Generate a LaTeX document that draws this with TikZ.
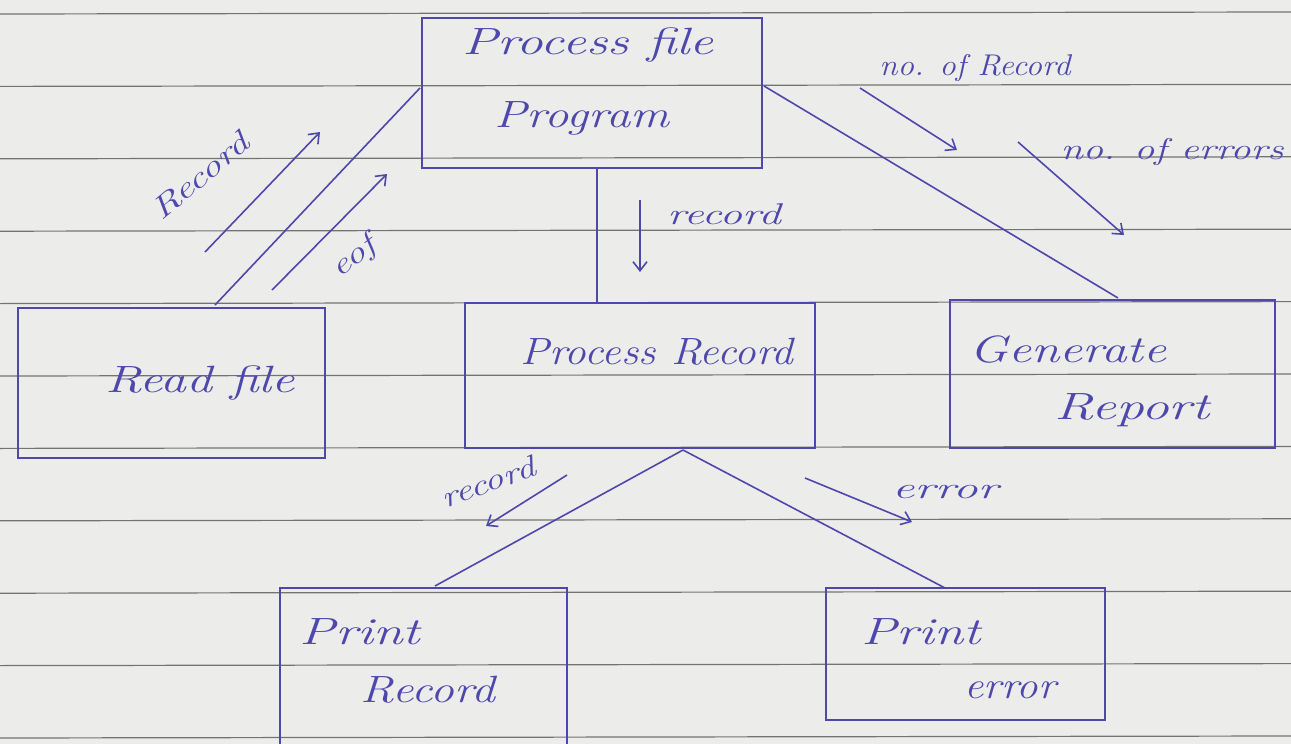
\documentclass[tikz,border=0pt]{standalone}
\usetikzlibrary{arrows.meta}
\definecolor{ink}{RGB}{78,72,172}
\definecolor{paper}{RGB}{236,236,234}
\definecolor{rule}{RGB}{115,115,115}
\newcommand\hw[2][1.35]{\scalebox{#1}[1]{#2}}
\begin{document}
\begin{tikzpicture}[x=1pt,y=-1pt,
  box/.style={draw=ink,line width=1.8pt},
  wire/.style={draw=ink,line width=1.6pt},
  flow/.style={draw=ink,line width=1.6pt,-{Straight Barb[length=9pt,width=14pt]}},
  txt/.style={text=ink,font=\fontsize{38}{42}\selectfont\itshape,inner sep=0pt},
  lbl/.style={text=ink,font=\fontsize{30}{34}\selectfont\itshape,inner sep=0pt}]
\useasboundingbox (0,0) rectangle (1291,744);
\fill[paper] (0,0) rectangle (1291,744);
\foreach \k in {0,...,10} {
  \draw[rule,line width=1.2pt] (0,{14+72.4*\k}) -- (1291,{12+72.4*\k});
}
% boxes
\draw[box] (422,18) rectangle (762,168);
\draw[box] (18,308) rectangle (325,458);
\draw[box] (465,303) rectangle (815,448);
\draw[box] (950,300) rectangle (1275,448);
\draw[box] (280,744) -- (280,588) -- (567,588) -- (567,744);
\draw[box] (826,588) rectangle (1105,720);
% box texts
\node[txt] (pf1) at (588,45) {\hw[1.4]{Process file}};
\node[txt] (pf2) at (582,118) {\hw[1.28]{Program}};
\node[txt] (rf) at (200,383) {\hw[1.36]{Read file}};
\node[txt] (pr) at (657,352) {\hw[1.14]{Process Record}};
\node[txt] (gr1) at (1068,350) {\hw[1.35]{Generate}};
\node[txt] (gr2) at (1132,410) {\hw[1.46]{Report}};
\node[txt] (p1) at (360,632) {\hw[1.41]{Print}};
\node[txt] (p2) at (428,690) {\hw[1.25]{Record}};
\node[txt] (e1) at (921,632) {\hw[1.39]{Print}};
\node[txt] (e2) at (1010,690) {\hw[1.13]{error}};
% connection points
\coordinate (pfL) at (420,88);
\coordinate (rfT) at (215,305);
\coordinate (pfB) at (597,168);
\coordinate (prT) at (597,303);
\coordinate (pfR) at (764,86);
\coordinate (grT) at (1118,298);
\coordinate (prB) at (683,450);
\coordinate (p1T) at (435,586);
\coordinate (e1T) at (945,588);
\draw[wire] (pfL) -- (rfT);
\draw[wire] (pfB) -- (prT);
\draw[wire] (pfR) -- (grT);
\draw[wire] (prB) -- (p1T);
\draw[wire] (prB) -- (e1T);
% flow arrows
\coordinate (a1s) at (205,252); \coordinate (a1e) at (320,132);
\coordinate (a2s) at (272,290); \coordinate (a2e) at (387,174);
\coordinate (a3s) at (640,200); \coordinate (a3e) at (640,272);
\coordinate (a4s) at (860,88);  \coordinate (a4e) at (957,150);
\coordinate (a5s) at (1018,142); \coordinate (a5e) at (1124,235);
\coordinate (a6s) at (567,475); \coordinate (a6e) at (486,526);
\coordinate (a7s) at (805,478); \coordinate (a7e) at (912,522);
\draw[flow] (a1s) -- (a1e);
\draw[flow] (a2s) -- (a2e);
\draw[flow] (a3s) -- (a3e);
\draw[flow] (a4s) -- (a4e);
\draw[flow] (a5s) -- (a5e);
\draw[flow] (a6s) -- (a6e);
\draw[flow] (a7s) -- (a7e);
% labels
\node[lbl,rotate=40] (l1) at (200,176) {\hw[1.4]{Record}};
\node[lbl,rotate=38] (l2) at (354,258) {\hw[1.35]{eof}};
\node[lbl] (l3) at (724,214) {\hw[1.5]{record}};
\node[lbl] (l4) at (975,68) {\hw[1.1]{no. of Record}};
\node[lbl] (l5) at (1172,152) {\hw[1.35]{no. of errors}};
\node[lbl,rotate=20] (l6) at (488,482) {\hw[1.3]{record}};
\node[lbl] (l7) at (945,492) {\hw[1.65]{error}};
\end{tikzpicture}
\end{document}
